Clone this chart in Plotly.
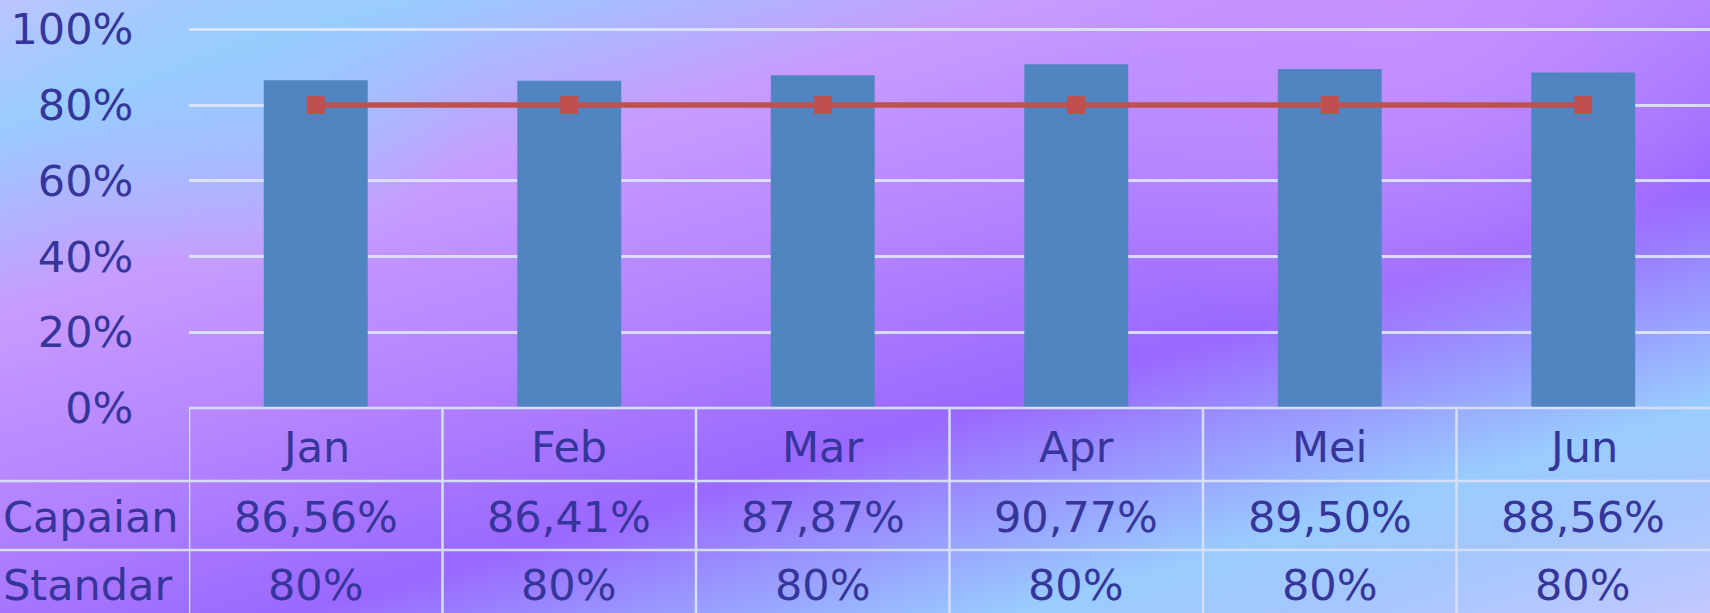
import base64
import plotly.graph_objs as go

months = ["Jan", "Feb", "Mar", "Apr", "Mei", "Jun"]
capaian = [0.8656, 0.8641, 0.8787, 0.9077, 0.8950, 0.8856]
standar = [0.80, 0.80, 0.80, 0.80, 0.80, 0.80]
row_names = ["Capaian", "Standar"]
y_ticks = [0, 0.2, 0.4, 0.6, 0.8, 1.0]
y_tick_text = ["0%", "20%", "40%", "60%", "80%", "100%"]

W, H = 1710, 613
ml, mt, mb = 189, 25, 205
ph = H - mt - mb
pw = W - ml
y_top = ph / 378.7  # 100% sits at ~29px from the top

txt_color = "#35359a"
line_col = "#d6def6"
font = "DejaVu Sans"
fs = 43

# background gradient (diagonal bands of blue / purple)
svg = """<svg xmlns='http://www.w3.org/2000/svg' width='1710' height='613' viewBox='0 0 1710 613' preserveAspectRatio='none'>
<defs><linearGradient id='g' gradientUnits='userSpaceOnUse' x1='0' y1='0' x2='314' y2='1041'>
<stop offset='0' stop-color='#bcc4ff'/>
<stop offset='0.11' stop-color='#99ccff'/>
<stop offset='0.28' stop-color='#c89aff'/>
<stop offset='0.44' stop-color='#b585ff'/>
<stop offset='0.62' stop-color='#9a68ff'/>
<stop offset='0.81' stop-color='#99ccff'/>
<stop offset='0.88' stop-color='#a4c6ff'/>
<stop offset='1' stop-color='#c4c8ff'/>
</linearGradient>
<radialGradient id='r' gradientUnits='userSpaceOnUse' cx='1400' cy='0' r='360'>
<stop offset='0' stop-color='#c892ff' stop-opacity='0.85'/>
<stop offset='1' stop-color='#c892ff' stop-opacity='0'/>
</radialGradient>
<radialGradient id='b' gradientUnits='userSpaceOnUse' cx='250' cy='60' r='230'>
<stop offset='0' stop-color='#96ccff' stop-opacity='0.7'/>
<stop offset='1' stop-color='#96ccff' stop-opacity='0'/>
</radialGradient></defs>
<rect width='1710' height='613' fill='url(#g)'/>
<rect width='1710' height='613' fill='url(#r)'/>
<rect width='1710' height='613' fill='url(#b)'/></svg>"""
bg_src = "data:image/svg+xml;base64," + base64.b64encode(svg.encode()).decode()

fig = go.Figure()

fig.add_trace(go.Bar(x=months, y=capaian, name="Capaian", width=0.41,
                     marker=dict(color="#5085c2", line=dict(width=0))))
fig.add_trace(go.Scatter(x=months, y=standar, name="Standar", mode="lines+markers",
                         line=dict(color="#c0504d", width=5.5),
                         marker=dict(symbol="square", size=18, color="#c0504d")))

def py(px):
    # pixel row (from top of figure) -> paper y
    return (H - mb - px) / ph

left_edge = -ml / pw

shapes = []
# top line of the data table (axis line)
shapes.append(dict(type="line", xref="paper", yref="paper", x0=0, x1=1, y0=0, y1=0,
                   line=dict(color=line_col, width=2.5)))
# vertical separators
for i in range(len(months)):
    shapes.append(dict(type="line", xref="x", yref="paper", x0=i - 0.5, x1=i - 0.5,
                       y0=0, y1=py(H + 5), line=dict(color=line_col, width=2.5)))
# row separators
for yy in [481, 550]:
    shapes.append(dict(type="line", xref="paper", yref="paper", x0=left_edge, x1=1,
                       y0=py(yy), y1=py(yy), line=dict(color=line_col, width=2.5)))

annotations = []
row_y = [py(447), py(517), py(585)]
for m in months:
    annotations.append(dict(x=m, y=row_y[0], xref="x", yref="paper", text=m,
                            showarrow=False, yanchor="middle",
                            font=dict(family=font, size=fs, color=txt_color)))
cap_labels = [f"{v * 100:.2f}%".replace(".", ",") for v in capaian]
std_labels = [f"{v * 100:.0f}%" for v in standar]
for r, labels in enumerate([cap_labels, std_labels]):
    for m, t in zip(months, labels):
        annotations.append(dict(x=m, y=row_y[r + 1], xref="x", yref="paper", text=t,
                                showarrow=False, yanchor="middle",
                                font=dict(family=font, size=fs, color=txt_color)))
    annotations.append(dict(x=left_edge + 1 / pw, y=row_y[r + 1], xref="paper", yref="paper",
                            text=row_names[r], showarrow=False, xanchor="left", yanchor="middle",
                            font=dict(family=font, size=fs, color=txt_color)))

fig.update_layout(
    width=W, height=H,
    margin=dict(l=ml, r=0, t=mt, b=mb, pad=0),
    paper_bgcolor="#b08cff",
    plot_bgcolor="rgba(0,0,0,0)",
    showlegend=False,
    images=[dict(source=bg_src, xref="paper", yref="paper", x=left_edge, y=1 + mt / ph,
                 sizex=W / pw, sizey=H / ph, sizing="stretch", xanchor="left",
                 yanchor="top", layer="below")],
    shapes=shapes,
    annotations=annotations,
    xaxis=dict(showticklabels=False, showgrid=False, zeroline=False, showline=False,
               range=[-0.5, 5.5], fixedrange=True),
    yaxis=dict(range=[0, y_top], tickvals=y_ticks, ticktext=y_tick_text,
               showgrid=True, gridcolor="rgba(222,230,252,0.9)", gridwidth=2.5,
               zeroline=False, showline=False,
               ticks="outside", ticklen=46, tickcolor="rgba(0,0,0,0)",
               tickfont=dict(family=font, size=fs, color=txt_color)),
)

fig.write_html("out.html", config={"displayModeBar": False},
               post_script="document.body.style.margin='0px';")
